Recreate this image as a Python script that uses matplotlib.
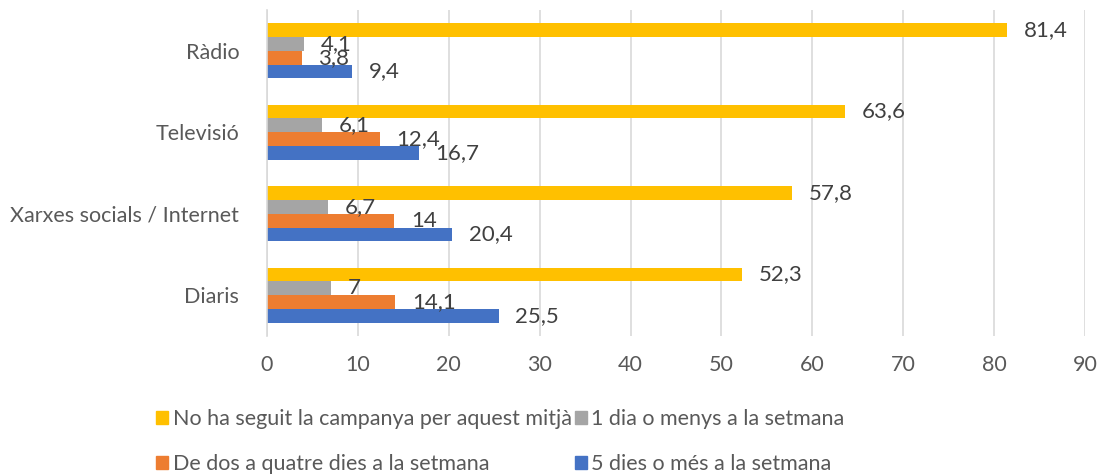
import matplotlib.pyplot as plt
from matplotlib.patches import Rectangle
import numpy as np

plt.rcParams['font.family'] = ['Lato', 'DejaVu Sans']

categories = ['Ràdio', 'Televisió', 'Xarxes socials / Internet', 'Diaris']
no_seguit = [81.4, 63.6, 57.8, 52.3]
un_dia = [4.1, 6.1, 6.7, 7]
dos_quatre = [3.8, 12.4, 14, 14.1]
cinc_mes = [9.4, 16.7, 20.4, 25.5]

series = [
    ('No ha seguit la campanya per aquest mitjà', no_seguit, '#FFC000'),
    ('1 dia o menys a la setmana', un_dia, '#A5A5A5'),
    ('De dos a quatre dies a la setmana', dos_quatre, '#ED7D31'),
    ('5 dies o més a la setmana', cinc_mes, '#4472C4'),
]

text_col = '#595959'

fig = plt.figure(figsize=(11.02, 4.74), dpi=100)
ax = fig.add_axes([267/1102, 1 - 336/474, (1085 - 267)/1102, (336 - 10)/474])

y = np.arange(len(categories))
h = 0.17
offsets = [-0.255, -0.085, 0.085, 0.255]

for (name, vals, col), off in zip(series, offsets):
    ax.barh(y + off, vals, height=h, color=col, zorder=2)
    for yi, v in zip(y, vals):
        lab = ('%g' % v).replace('.', ',')
        ax.annotate(lab, (v, yi + off), xytext=(12, 0), textcoords='offset points',
                    ha='left', va='center', fontsize=16, color='#404040')

ax.set_xlim(0, 90)
ax.set_ylim(len(categories) - 0.5, -0.5)
ax.set_xticks(np.arange(0, 91, 10))
ax.set_yticks(y)
ax.set_yticklabels(categories)
ax.tick_params(axis='both', length=0, labelsize=15.5, labelcolor=text_col)
ax.tick_params(axis='x', pad=14)
ax.tick_params(axis='y', pad=20)
ax.grid(axis='x', color='#d9d9d9', linewidth=1.2, zorder=0)
for s in ['top', 'right', 'bottom']:
    ax.spines[s].set_visible(False)
ax.spines['left'].set_color('#d9d9d9')
ax.spines['left'].set_linewidth(1.2)
ax.spines['left'].set_zorder(3)

handles = [Rectangle((0, 0), 1, 1, color=c) for _, _, c in series]
names = [n for n, _, _ in series]
order = [0, 2, 1, 3]
fig.legend([handles[i] for i in order], [names[i] for i in order],
           ncol=2, loc='center', bbox_to_anchor=(0.454, 0.068), frameon=False,
           fontsize=15.5, labelcolor=text_col, handlelength=0.55, handleheight=0.55,
           handletextpad=0.2, columnspacing=0.15, labelspacing=1.15)

fig.savefig('out.png', dpi=100)
